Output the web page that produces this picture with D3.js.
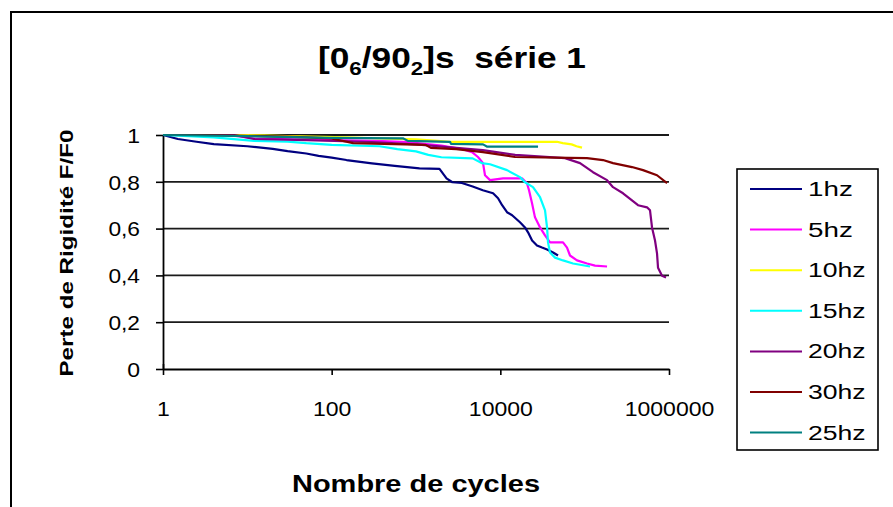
<!DOCTYPE html>
<html><head><meta charset="utf-8">
<script src="https://cdn.jsdelivr.net/npm/d3@7/dist/d3.min.js"></script>
<style>body{margin:0;background:#fff}svg{display:block}text{font-family:"Liberation Sans",Arial,sans-serif}</style>
</head><body>
<script>
// ---- data ----
const seriesNames = ["1hz","5hz","10hz","15hz","20hz","30hz","25hz"];
const seriesColors = ["#000080","#ff00ff","#ffff00","#00ffff","#800080","#800000","#008080"];
const yTicks = [0,0.2,0.4,0.6,0.8,1];
const yTickLabels = ["0","0,2","0,4","0,6","0,8","1"];
const xTicks = [1,100,10000,1000000];
const xTickLabels = ["1","100","10000","1000000"];
// [cycles, F/F0]
const hz1 = [[1,1],[1.5,0.983],[2.5,0.971],[4,0.961],[10,0.952],[20,0.941],[30,0.931],[50,0.921],[70,0.911],[100,0.903],[150,0.893],[300,0.879],[560,0.868],[1100,0.857],[1900,0.855],[2300,0.815],[2700,0.798],[3500,0.795],[4700,0.78],[6200,0.764],[8200,0.751],[9400,0.73],[10500,0.70],[12000,0.67],[13800,0.657],[17100,0.627],[19600,0.605],[21300,0.584],[23800,0.549],[27200,0.528],[31200,0.519],[35800,0.511],[42200,0.498],[48300,0.485]];
const hz5 = [[1,1],[6,1],[12,0.985],[25,0.982],[400,0.974],[800,0.97],[2000,0.955],[3500,0.94],[4620,0.927],[5430,0.906],[6235,0.88],[6580,0.828],[7550,0.807],[10760,0.815],[18070,0.815],[20700,0.794],[21880,0.764],[23760,0.708],[25760,0.648],[29570,0.605],[33880,0.571],[38840,0.541],[55350,0.541],[61750,0.519],[67000,0.485],[81100,0.464],[106600,0.451],[132700,0.442],[184200,0.438]];
const hz10 = [[1,1],[10,1],[30,0.995],[150,0.99],[400,0.985],[1000,0.981],[1800,0.975],[2500,0.971],[47000,0.971],[55000,0.965],[70000,0.96],[80000,0.952],[93000,0.946]];
const hz15 = [[1,1],[4,0.99],[12,0.975],[30,0.972],[50,0.965],[100,0.958],[370,0.952],[600,0.94],[1000,0.93],[1400,0.915],[2000,0.905],[4700,0.9],[6000,0.88],[7550,0.875],[12000,0.85],[17100,0.82],[19600,0.798],[24400,0.777],[29570,0.734],[33880,0.678],[35800,0.605],[36750,0.541],[38840,0.498],[44500,0.476],[55350,0.464],[72800,0.451],[115700,0.438]];
const hz20 = [[1,1],[7,1],[12,0.983],[30,0.98],[300,0.97],[1000,0.96],[3000,0.945],[6200,0.935],[15000,0.915],[58500,0.901],[88100,0.88],[125600,0.841],[184200,0.807],[216900,0.777],[285000,0.751],[364000,0.721],[429300,0.70],[548600,0.691],[595500,0.678],[629000,0.605],[682500,0.549],[721000,0.494],[741000,0.433],[826800,0.399],[922000,0.391]];
const hz30 = [[1,1],[3.4,1],[30,0.993],[96,0.986],[180,0.965],[1300,0.958],[1500,0.945],[3000,0.94],[6235,0.927],[14930,0.906],[106600,0.901],[165000,0.893],[216900,0.88],[364000,0.863],[492000,0.85],[721000,0.828],[948000,0.794]];
const hz25 = [[1,1],[10,0.995],[96,0.988],[700,0.986],[800,0.975],[2530,0.971],[2600,0.962],[6235,0.96],[7000,0.95],[28000,0.95]];
const seriesData = [hz1,hz5,hz10,hz15,hz20,hz30,hz25];

const W=893,H=507;
const svg=d3.select("body").append("svg").attr("width",W).attr("height",H);
// outer frame
svg.append("rect").attr("x",11).attr("y",12).attr("width",W+20).attr("height",H+20)
  .attr("fill","none").attr("stroke","#000").attr("stroke-width",2);

const x=d3.scaleLog().domain([1,1e6]).range([163,669]);
const y=d3.scaleLinear().domain([0,1]).range([369,135]);

// gridlines
svg.append("g").selectAll("line").data(yTicks.filter(d=>d>0)).join("line")
  .attr("x1",x(1)).attr("x2",x(1e6)).attr("y1",d=>y(d)).attr("y2",d=>y(d))
  .attr("stroke","#1a1a1a").attr("stroke-width",1.8);

// axes
const yAx=svg.append("g").attr("transform",`translate(${x(1)},0)`)
  .call(d3.axisLeft(y).tickValues(yTicks).tickFormat((d,i)=>yTickLabels[i]).tickSize(7).tickSizeOuter(0).tickPadding(16));
const xAx=svg.append("g").attr("transform",`translate(0,${y(0)})`)
  .call(d3.axisBottom(x).tickValues(xTicks).tickFormat((d,i)=>xTickLabels[i]).tickSize(6).tickSizeOuter(0).tickPadding(27));
[yAx,xAx].forEach(g=>{
  g.select(".domain").attr("stroke","#000").attr("stroke-width",1.8);
  g.selectAll(".tick line").attr("stroke","#000").attr("stroke-width",1.6);
  g.selectAll(".tick text").attr("fill","#000").style("font-size","20px")
   .attr("lengthAdjust","spacingAndGlyphs")
   .attr("textLength",function(){const t=this.textContent;return t.replace(/[^0-9]/g,"").length*12.8+(t.includes(",")?6:0);});
});
yAx.selectAll(".tick text").attr("dy","0.36em");
xAx.select(".tick line").attr("y1",-5);

// series
const line=d3.line().x(d=>x(d[0])).y(d=>y(d[1]));
svg.append("g").selectAll("path").data(seriesData).join("path")
  .attr("d",line).attr("fill","none").attr("stroke",(d,i)=>seriesColors[i])
  .attr("stroke-width",2.2).attr("stroke-linejoin","round");

// title
const title=svg.append("text").attr("x",318).attr("y",68)
  .style("font-size","30px").style("font-weight","bold").style("white-space","pre").attr("fill","#000")
  .attr("textLength",268).attr("lengthAdjust","spacingAndGlyphs");
title.append("tspan").text("[0");
title.append("tspan").text("6").style("font-size","19px").attr("dy",7);
title.append("tspan").text("/90").attr("dy",-7);
title.append("tspan").text("2").style("font-size","19px").attr("dy",7);
title.append("tspan").text("]s  série 1").attr("dy",-7);

// axis titles
svg.append("text").attr("x",416).attr("y",492).attr("text-anchor","middle")
  .style("font-size","23px").style("font-weight","bold").text("Nombre de cycles")
  .attr("textLength",248).attr("lengthAdjust","spacingAndGlyphs");
svg.append("text").attr("transform","translate(73,253) rotate(-90)").attr("text-anchor","middle")
  .style("font-size","19px").style("font-weight","bold").text("Perte de Rigidité F/F0")
  .attr("textLength",247).attr("lengthAdjust","spacingAndGlyphs");

// legend
const lg=svg.append("g");
lg.append("rect").attr("x",737).attr("y",169).attr("width",141).attr("height",281)
  .attr("fill","#fff").attr("stroke","#000").attr("stroke-width",1.6);
const items=lg.selectAll("g.it").data(seriesNames).join("g").attr("class","it")
  .attr("transform",(d,i)=>`translate(0,${189+i*40.6})`);
items.append("line").attr("x1",750).attr("x2",802).attr("stroke",(d,i)=>seriesColors[i]).attr("stroke-width",2);
items.append("text").attr("x",808).attr("y",7).style("font-size","20px").attr("fill","#000")
  .text(d=>d).attr("lengthAdjust","spacingAndGlyphs")
  .attr("textLength",d=>d.replace(/[^0-9]/g,"").length*12.8+32);
</script>
</body></html>
